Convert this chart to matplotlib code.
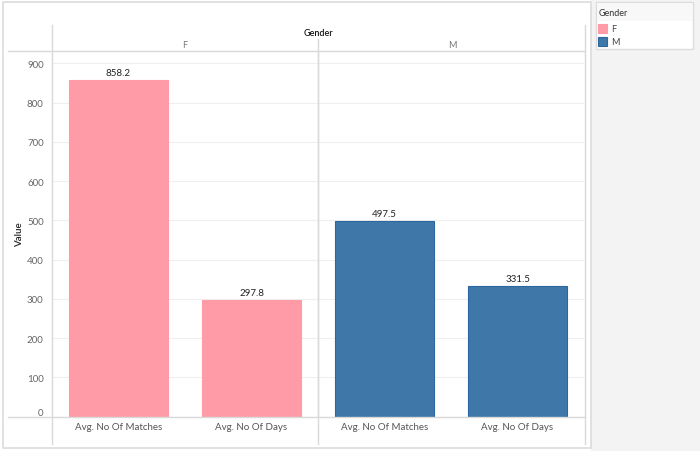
import matplotlib
matplotlib.use("Agg")
import matplotlib.pyplot as plt
from matplotlib.lines import Line2D
from matplotlib.patches import Rectangle

plt.rcParams['font.family'] = ['Lato', 'DejaVu Sans']

genders = ["F", "M"]
measures = ["Avg. No Of Matches", "Avg. No Of Days"]
values_f = [858.2, 297.8]
values_m = [497.5, 331.5]
yticks = [0, 100, 200, 300, 400, 500, 600, 700, 800, 900]
colors = {"F": "#ff9ba7", "M": "#3f78a8"}
edges = {"F": "#ff9ba7", "M": "#2c67a0"}

W, H = 700, 452
fig = plt.figure(figsize=(W / 100, H / 100), dpi=100)
fig.patch.set_facecolor("white")

def fx(px):
    return px / W

def fy(py):
    return 1 - py / H

# right gray area
fig.add_artist(Rectangle((fx(591), 0), 1 - fx(591), 1, transform=fig.transFigure,
                         facecolor="#f3f3f3", edgecolor="none", zorder=0))
# main panel border
fig.add_artist(Rectangle((fx(3), fy(449)), fx(588), (446) / H, transform=fig.transFigure,
                         facecolor="white", edgecolor="#dcdcdc", linewidth=1.2, zorder=0))

# axes
left, right, top, bottom = 52, 584, 52, 417.6
ax = fig.add_axes([fx(left), fy(bottom), fx(right - left), (bottom - top) / H])
ax.set_xlim(0, 4)
ax.set_ylim(0, 931.5)

series = [("F", values_f), ("M", values_m)]
for gi, (g, vals) in enumerate(series):
    xs = [gi * 2 + i + 0.5 for i in range(len(vals))]
    ax.bar(xs, vals, width=0.75, color=colors[g], edgecolor=edges[g],
           linewidth=0.8, zorder=3)
    for x, v in zip(xs, vals):
        ax.text(x, v + 8, f"{v:.1f}", ha="center", va="bottom", fontsize=7,
                color="#222222", zorder=4)

ax.set_yticks(yticks)
ax.set_yticklabels([str(t) for t in yticks], fontsize=7, color="#666666")
ax.tick_params(axis="y", length=0, pad=6)
lbls = ax.get_yticklabels()
lbls[0].set_verticalalignment("bottom")
ax.grid(axis="y", color="#efefef", linewidth=0.8, zorder=0)
ax.set_xticks([0.5, 1.5, 2.5, 3.5])
ax.set_xticklabels(measures * 2, fontsize=7, color="#555555")
ax.tick_params(axis="x", length=0, pad=4)
for s in ax.spines.values():
    s.set_visible(False)
ax.axvline(2, color="#d4d4d4", linewidth=0.9, zorder=1)
ax.set_ylabel("Value", fontsize=7, color="#222222", fontweight="semibold")
ax.yaxis.set_label_coords(-0.052, 0.5)

# structural lines in figure coordinates
def hline(y, x0, x1, c="#d9d9d9", lw=1.0):
    fig.add_artist(Line2D([fx(x0), fx(x1)], [fy(y), fy(y)], transform=fig.transFigure,
                          color=c, linewidth=lw))

def vline(x, y0, y1, c="#d9d9d9", lw=1.0):
    fig.add_artist(Line2D([fx(x), fx(x)], [fy(y0), fy(y1)], transform=fig.transFigure,
                          color=c, linewidth=lw))

hline(52, 8, 585)
hline(418, 8, 585)
vline(52, 26, 445)
vline(318, 40, 445)
vline(585, 26, 445)

# headers
fig.text(fx(318), fy(33), "Gender", ha="center", va="center", fontsize=6.5,
         color="#111111", fontweight="semibold")
fig.text(fx(185), fy(46), genders[0], ha="center", va="center", fontsize=6.5, color="#777777")
fig.text(fx(452), fy(46), genders[1], ha="center", va="center", fontsize=6.5, color="#777777")

# legend
fig.add_artist(Rectangle((fx(596), fy(50)), fx(97), 47 / H, transform=fig.transFigure,
                         facecolor="white", edgecolor="#dcdcdc", linewidth=1.0))
fig.add_artist(Rectangle((fx(597), fy(22)), fx(95), 18 / H, transform=fig.transFigure,
                         facecolor="#f8f8f8", edgecolor="none"))
fig.text(fx(599), fy(13), "Gender", ha="left", va="center", fontsize=6.5, color="#333333")
for i, g in enumerate(genders):
    yc = 29.5 + i * 13
    fig.add_artist(Rectangle((fx(598), fy(yc + 4.5)), fx(9), 9 / H, transform=fig.transFigure,
                             facecolor=colors[g], edgecolor=edges[g], linewidth=0.8))
    fig.text(fx(611), fy(yc), g, ha="left", va="center", fontsize=6.5, color="#444444")

fig.savefig("out.png", dpi=100)
